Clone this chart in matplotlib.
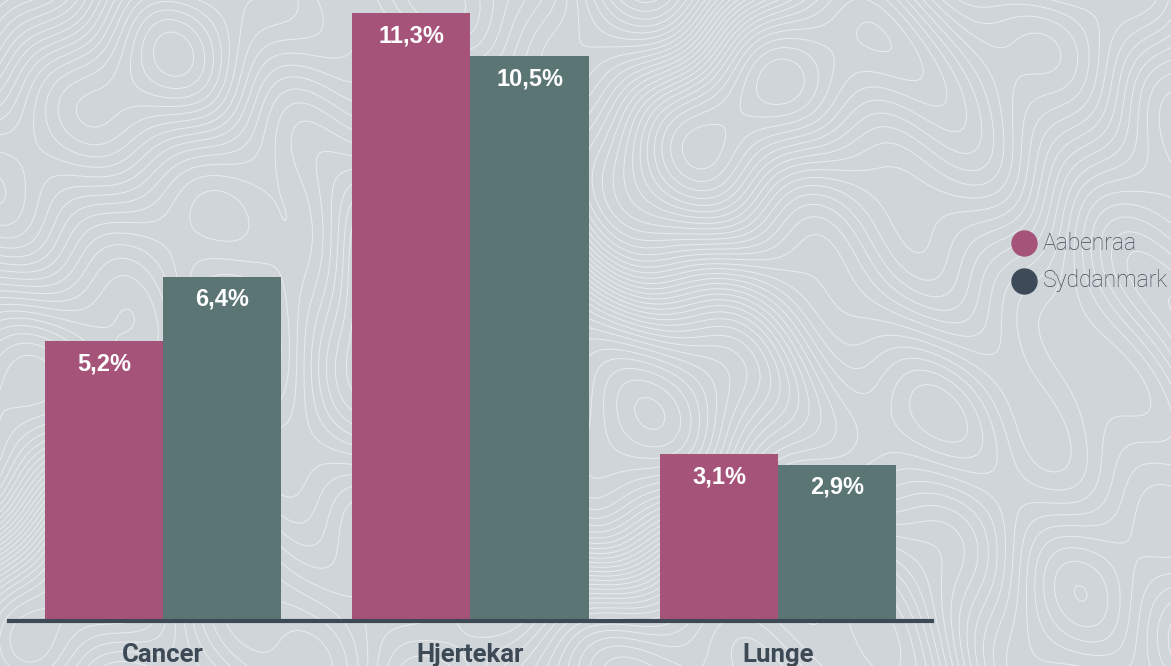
import matplotlib.pyplot as plt
import numpy as np

categories = ["Cancer", "Hjertekar", "Lunge"]
series = ["Aabenraa", "Syddanmark"]
aabenraa = [5.2, 11.3, 3.1]
syddanmark = [6.4, 10.5, 2.9]
labels_a = ["5,2%", "11,3%", "3,1%"]
labels_s = ["6,4%", "10,5%", "2,9%"]

bg = "#d0d5da"
pink = "#a6537a"
teal = "#5b7574"
dark = "#3d4a55"

fig = plt.figure(figsize=(11.71, 6.66), dpi=100)
fig.patch.set_facecolor(bg)

# decorative topographic background
bgax = fig.add_axes([0, 0, 1, 1], zorder=0)
gx, gy = np.meshgrid(np.linspace(0, 1171, 700), np.linspace(0, 666, 400))
u, v = gx / 100, gy / 100
z = (np.sin(u * 0.9 + np.cos(v * 1.3)) + np.cos(v * 1.1 - 0.6 * np.sin(u * 1.7))
     + 0.5 * np.sin(u * 0.4 + v * 0.8) + 0.3 * np.cos(u * 2.1 - v * 1.6)
     + 0.15 * np.sin(u * 4.3 + v * 3.1))
bgax.contour(gx, gy, z, levels=40, colors="white", linewidths=0.7, alpha=0.55,
             linestyles="solid")
bgax.set_xlim(0, 1171)
bgax.set_ylim(0, 666)
bgax.set_facecolor(bg)
bgax.axis("off")

ax = fig.add_axes([9 / 1171, 45 / 666, 923 / 1171, 621 / 666], zorder=1)
ax.patch.set_alpha(0)
x = np.arange(len(categories))
w = 0.384
ba = ax.bar(x - w / 2, aabenraa, w, color=pink, edgecolor="none")
bs = ax.bar(x + w / 2, syddanmark, w, color=teal, edgecolor="none")

for bars, labs in ((ba, labels_a), (bs, labels_s)):
    for b, lab in zip(bars, labs):
        ax.annotate(lab, (b.get_x() + b.get_width() / 2, b.get_height()),
                    xytext=(0, -16), textcoords="offset points", ha="center", va="center",
                    color="white", fontsize=17, fontweight="bold", family="Liberation Sans")

ax.set_xlim(-0.5, 2.5)
ax.set_ylim(0, 11.55)
for s in ["top", "right", "left"]:
    ax.spines[s].set_visible(False)
ax.spines["bottom"].set_color(dark)
ax.spines["bottom"].set_linewidth(3)
ax.set_yticks([])
ax.set_xticks(x)
ax.set_xticklabels(categories, family="Roboto", fontweight="bold", fontsize=18.5, color=dark)
ax.tick_params(axis="x", length=0, pad=16)

# legend (pixel coordinates of the background axes)
legcols = [pink, "#3d4b58"]
for i, (name, c) in enumerate(zip(series, legcols)):
    yy = 666 - (243 + 38 * i)
    bgax.plot([1024], [yy], "o", ms=19, color=c, mec="none")
    bgax.text(1043, yy, name, ha="left", va="center", fontsize=16.5,
              family="Roboto", fontweight="light", color="#3f4a55")

fig.savefig("out.png", dpi=100, facecolor=bg)
